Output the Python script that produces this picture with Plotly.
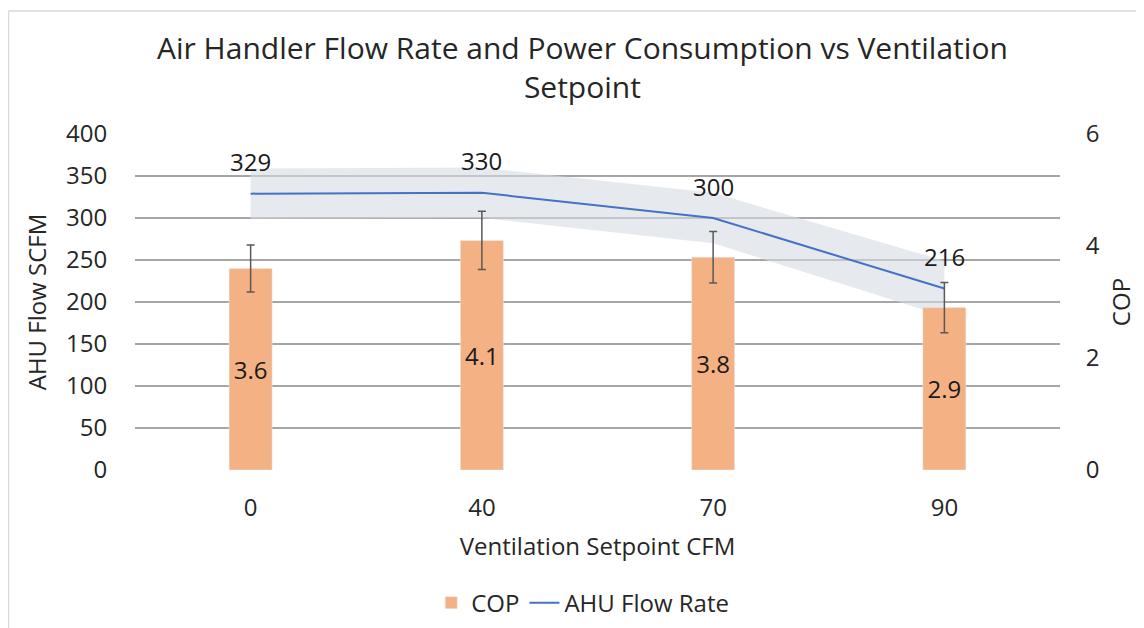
import plotly.graph_objects as go

# data
setpoints = ['0', '40', '70', '90']
cop = [3.6, 4.1, 3.8, 2.9]
cop_err = [0.42, 0.52, 0.46, 0.45]
ahu_flow = [329, 330, 300, 216]
flow_band = [30, 30, 30, 33]

FONT = 'Open Sans'
TXT = '#262626'

upper = [f + b for f, b in zip(ahu_flow, flow_band)]
lower = [f - b for f, b in zip(ahu_flow, flow_band)]

fig = go.Figure()

# shaded band around the flow line
fig.add_trace(go.Scatter(x=setpoints, y=upper, mode='lines', line=dict(width=0),
                         showlegend=False, hoverinfo='skip'))
fig.add_trace(go.Scatter(x=setpoints, y=lower, mode='lines', line=dict(width=0),
                         fill='tonexty', fillcolor='rgba(214,220,228,0.6)',
                         showlegend=False, hoverinfo='skip'))

# COP bars on the secondary axis
fig.add_trace(go.Bar(x=setpoints, y=cop, name='COP', yaxis='y2', width=0.186,
                     marker=dict(color='#f4b183'),
                     text=[f'{v:.1f}' for v in cop], textposition='inside',
                     insidetextanchor='middle', textangle=0,
                     textfont=dict(size=24, color='#1a1a1a', family=FONT),
                     error_y=dict(type='data', array=cop_err, color='#595959',
                                  thickness=1.5, width=4)))

# AHU flow line
fig.add_trace(go.Scatter(x=setpoints, y=ahu_flow, mode='lines', name='AHU Flow Rate',
                         line=dict(color='#4472c4', width=2)))

# data labels above the line (x given as category index)
for i, v in enumerate(ahu_flow):
    fig.add_annotation(x=i, y=v, text=str(v), showarrow=False, yshift=32,
                       font=dict(size=24, color='#1a1a1a', family=FONT))

# the page body adds an 8px offset, so the figure is 8px smaller
fig.update_layout(
    width=1136, height=620,
    margin=dict(l=127, r=84, t=126, b=158, autoexpand=False),
    paper_bgcolor='white', plot_bgcolor='white',
    font=dict(family=FONT, color=TXT, size=24),
    showlegend=True,
    legend=dict(orientation='h', x=0.484, xanchor='center', y=-0.396, yanchor='middle',
                font=dict(size=24, color=TXT), traceorder='normal'),
    xaxis=dict(type='category', showgrid=False, zeroline=False,
               ticks='outside', ticklen=16, tickcolor='rgba(0,0,0,0)',
               tickfont=dict(size=24), showline=False,
               title=dict(text='Ventilation Setpoint CFM', font=dict(size=24), standoff=16)),
    yaxis=dict(range=[0, 400], dtick=50, showgrid=True, gridcolor='#a6a6a6', gridwidth=1.5,
               zeroline=False, ticks='outside', ticklen=22, tickcolor='rgba(0,0,0,0)',
               tickfont=dict(size=24),
               title=dict(text='AHU Flow SCFM', font=dict(size=24), standoff=12)),
    yaxis2=dict(range=[0, 6], dtick=2, overlaying='y', side='right', showgrid=False,
                zeroline=False, ticks='outside', ticklen=20, tickcolor='rgba(0,0,0,0)',
                tickfont=dict(size=24),
                title=dict(text='COP', font=dict(size=24), standoff=14)),
)

# title
fig.add_annotation(text='Air Handler Flow Rate and Power Consumption vs Ventilation<br>Setpoint',
                   xref='paper', yref='paper', x=0.484, y=1.199, yanchor='middle',
                   showarrow=False, font=dict(size=30, color=TXT, family=FONT))

# light frame around the chart area
fig.add_shape(type='line', xref='paper', yref='paper', x0=-0.1368, x1=1.1, y0=1.366, y1=1.366,
              line=dict(color='#d9d9d9', width=1.5))
fig.add_shape(type='line', xref='paper', yref='paper', x0=-0.1368, x1=-0.1368, y0=-0.5, y1=1.366,
              line=dict(color='#d9d9d9', width=1.5))

fig.write_html('out.html')
